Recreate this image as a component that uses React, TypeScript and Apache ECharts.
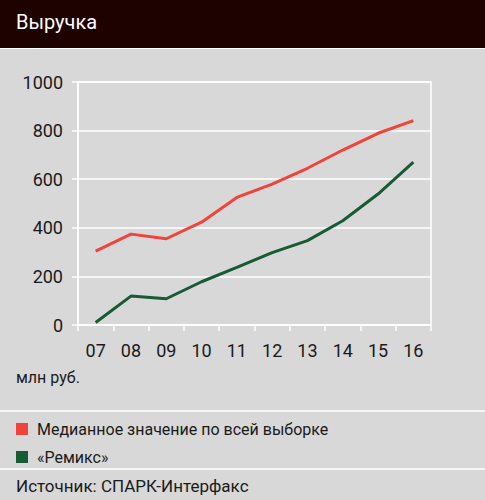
import { useEffect, useRef } from "react";
import * as echarts from "echarts";

const YEARS = ["07", "08", "09", "10", "11", "12", "13", "14", "15", "16"];
const MEDIAN = [304, 374, 355, 423, 525, 580, 645, 720, 789, 841];
const REMIX = [10, 119, 108, 178, 237, 298, 347, 429, 539, 670];
const SERIES_NAMES = ["Медианное значение по всей выборке", "«Ремикс»"];

const FONT = "'Roboto', 'Liberation Sans', sans-serif";
const TEXT = "#1a1a1a";
const RED = "#f0433a";
const GREEN = "#175a34";

export default function App() {
  const ref = useRef<HTMLDivElement>(null);

  useEffect(() => {
    document.body.style.margin = "0";
    if (!ref.current) return;
    const chart = echarts.init(ref.current, null, { renderer: "svg" });

    chart.setOption({
      animation: false,
      backgroundColor: "#d8d8d8",
      textStyle: { fontFamily: FONT },
      grid: {
        left: 78,
        right: 54,
        top: 82,
        bottom: 175,
        show: true,
        borderColor: "#ffffff",
        borderWidth: 1.5,
        backgroundColor: "transparent",
      },
      legend: {
        orient: "vertical",
        left: 16,
        top: 421,
        padding: 0,
        itemGap: 12,
        itemWidth: 12,
        itemHeight: 12,
        icon: "rect",
        data: SERIES_NAMES,
        textStyle: { fontFamily: FONT, fontSize: 16, color: TEXT, padding: [0, 0, 0, 4] },
      },
      xAxis: {
        type: "category",
        data: YEARS,
        boundaryGap: true,
        axisLine: { lineStyle: { color: "#ffffff", width: 1.5 } },
        axisTick: { show: true, length: 6, lineStyle: { color: "#ffffff", width: 1.5 } },
        axisLabel: { fontFamily: FONT, fontSize: 18, color: TEXT, margin: 16 },
      },
      yAxis: {
        type: "value",
        min: 0,
        max: 1000,
        interval: 200,
        axisLine: { show: true, lineStyle: { color: "#ffffff", width: 1.5 } },
        axisTick: { show: true, length: 6, lineStyle: { color: "#ffffff", width: 1.5 } },
        splitLine: { lineStyle: { color: "#ffffff", width: 1.5 } },
        axisLabel: {
          fontFamily: FONT,
          fontSize: 18,
          color: TEXT,
          margin: 15,
          formatter: (v: number) => String(v),
        },
      },
      series: [
        {
          name: SERIES_NAMES[0],
          type: "line",
          data: MEDIAN,
          symbol: "none",
          color: RED,
          lineStyle: { color: RED, width: 3 },
        },
        {
          name: SERIES_NAMES[1],
          type: "line",
          data: REMIX,
          symbol: "none",
          color: GREEN,
          lineStyle: { color: GREEN, width: 3 },
        },
      ],
      graphic: [
        { type: "rect", left: 0, top: 0, shape: { width: 485, height: 48 }, style: { fill: "#1e0200" } },
        { type: "line", shape: { x1: 0, y1: 48.5, x2: 485, y2: 48.5 }, style: { stroke: "#ffffff", lineWidth: 1 } },
        {
          type: "text",
          left: 16,
          top: 12,
          style: { text: "Выручка", fill: "#ffffff", font: `20px ${FONT}` },
        },
        {
          type: "text",
          left: 16,
          top: 369,
          style: { text: "млн руб.", fill: TEXT, font: `16px ${FONT}` },
        },
        { type: "line", shape: { x1: 0, y1: 411, x2: 485, y2: 411 }, style: { stroke: "#ffffff", lineWidth: 1.5 } },
        { type: "line", shape: { x1: 0, y1: 469, x2: 485, y2: 469 }, style: { stroke: "#ffffff", lineWidth: 1.5 } },
        {
          type: "text",
          left: 16,
          top: 477,
          style: { text: "Источник: СПАРК-Интерфакс", fill: TEXT, font: `17px ${FONT}` },
        },
      ],
    });

    return () => chart.dispose();
  }, []);

  return <div ref={ref} style={{ width: 485, height: 500 }} />;
}
